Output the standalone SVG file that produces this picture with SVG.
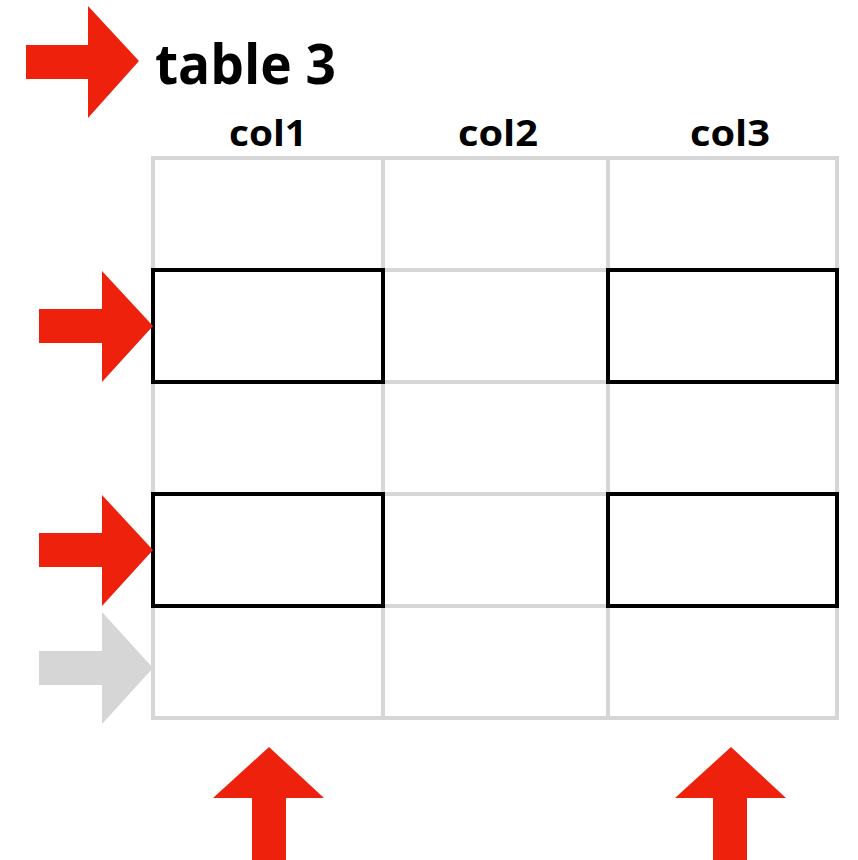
<svg xmlns="http://www.w3.org/2000/svg" width="858" height="860" viewBox="0 0 858 860">
<style>
.red{fill:#ee220c}
.gray{fill:#d6d6d6}
.grid{stroke:#d6d6d6;stroke-width:4;fill:none}
.sel{stroke:#000;stroke-width:4;fill:none}
.title{font-family:"Open Sans","Liberation Sans",sans-serif;font-weight:bold;font-size:55px;fill:#000}
.hdr{font-family:"Open Sans","Liberation Sans",sans-serif;font-weight:bold;font-size:36px;fill:#000;text-anchor:middle}
</style>
<rect width="858" height="860" fill="#fff"/>
<g id="title">
<polygon class="red" points="26,45 88,45 88,6 139,61 88,118 88,79 26,79"/>
<text class="title" x="155" y="84" textLength="181" lengthAdjust="spacingAndGlyphs">table 3</text>
</g>
<g id="headers">
<text class="hdr" x="268" y="146" textLength="78" lengthAdjust="spacingAndGlyphs">col1</text>
<text class="hdr" x="498" y="146" textLength="80" lengthAdjust="spacingAndGlyphs">col2</text>
<text class="hdr" x="730" y="146" textLength="80" lengthAdjust="spacingAndGlyphs">col3</text>
</g>
<g id="grid">
<rect class="grid" x="153" y="158" width="684" height="560"/>
<line class="grid" x1="383" y1="158" x2="383" y2="718"/>
<line class="grid" x1="608" y1="158" x2="608" y2="718"/>
<line class="grid" x1="153" y1="270" x2="837" y2="270"/>
<line class="grid" x1="153" y1="382" x2="837" y2="382"/>
<line class="grid" x1="153" y1="494" x2="837" y2="494"/>
<line class="grid" x1="153" y1="606" x2="837" y2="606"/>
</g>
<g id="selected">
<rect class="sel" x="153" y="270" width="230" height="112"/>
<rect class="sel" x="608" y="270" width="229" height="112"/>
<rect class="sel" x="153" y="494" width="230" height="112"/>
<rect class="sel" x="608" y="494" width="229" height="112"/>
</g>
<g id="arrows">
<polygon class="red" points="39,309 102,309 102,271 153,326 102,382 102,343 39,343"/>
<polygon class="red" points="39,533 102,533 102,495 153,550 102,606 102,567 39,567"/>
<polygon class="gray" points="39,651 102,651 102,612 153,668 102,724 102,685 39,685"/>
<polygon class="red" points="252,860 252,798 213,798 269,747 324,798 286,798 286,860"/>
<polygon class="red" points="713,860 713,798 675,798 731,747 786,798 747,798 747,860"/>
</g>
</svg>
